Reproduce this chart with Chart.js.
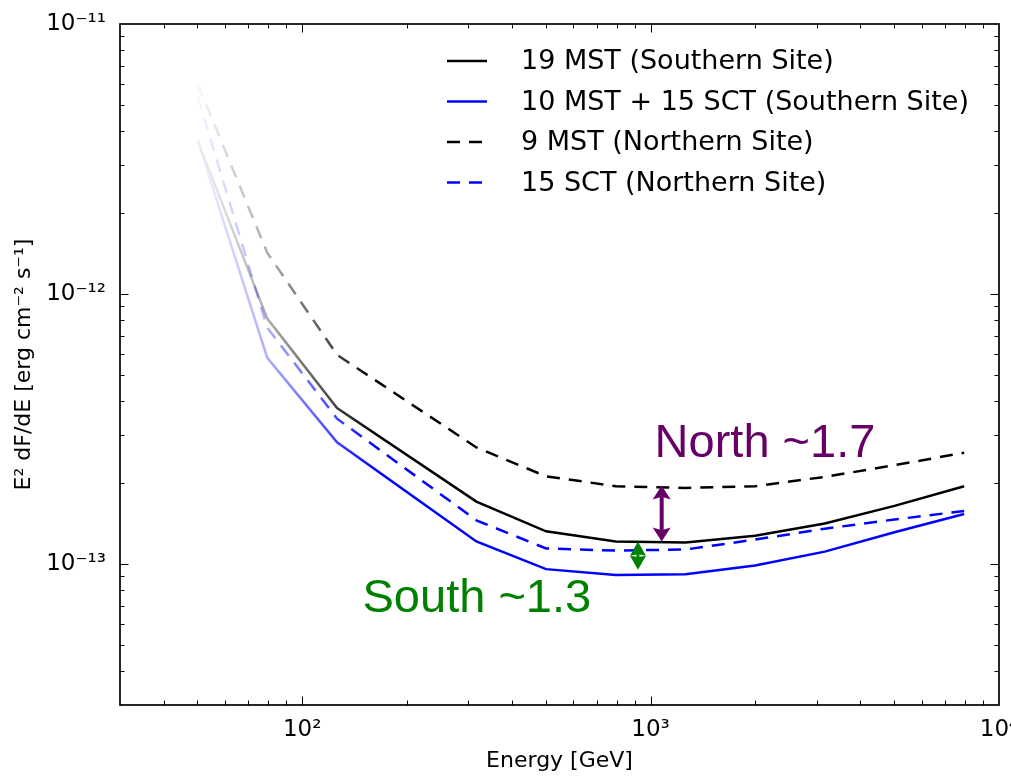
<!DOCTYPE html>
<html>
<head>
<meta charset="utf-8">
<script src="https://cdn.jsdelivr.net/npm/chart.js@4/dist/chart.umd.min.js"></script>
<style>
html, body { margin:0; padding:0; background:#fff; }
#wrap { width:1011px; height:777px; }
</style>
</head>
<body>
<div id="wrap"><canvas id="canvas" width="1011" height="777"></canvas></div>
<script>
// energy bins (GeV), log spaced
var energies = [50.1, 79.4, 125.9, 316.2, 501.2, 794.3, 1258.9, 1995.3, 3162.3, 5011.9, 7943.3];

// sensitivity curves, E^2 dF/dE in erg cm^-2 s^-1
var mstSouth = [3.7e-12, 8.1e-13, 3.78e-13, 1.70e-13, 1.32e-13, 1.21e-13, 1.20e-13, 1.27e-13, 1.41e-13, 1.64e-13, 1.94e-13];
var mixSouth = [3.7e-12, 5.8e-13, 2.82e-13, 1.21e-13, 9.56e-14, 9.1e-14, 9.16e-14, 9.87e-14, 1.11e-13, 1.31e-13, 1.53e-13];
var mstNorth = [6.0e-12, 1.42e-12, 5.95e-13, 2.70e-13, 2.11e-13, 1.94e-13, 1.91e-13, 1.94e-13, 2.10e-13, 2.32e-13, 2.58e-13];
var sctNorth = [5.4e-12, 7.5e-13, 3.45e-13, 1.45e-13, 1.14e-13, 1.12e-13, 1.13e-13, 1.23e-13, 1.35e-13, 1.46e-13, 1.57e-13];

var seriesNames = ['19 MST (Southern Site)', '10 MST + 15 SCT (Southern Site)', '9 MST (Northern Site)', '15 SCT (Northern Site)'];

var xRange = [30, 10000];
var yRange = [3e-14, 1e-11];
var xTicks = [100, 1000, 10000];
var xTickLabels = ['10\u00b2', '10\u00b3', '10\u2074'];
var yTicks = [1e-13, 1e-12, 1e-11];
var yTickLabels = ['10\u207b\u00b9\u00b3', '10\u207b\u00b9\u00b2', '10\u207b\u00b9\u00b9'];

// ratio markers: energy, upper curve, lower curve
var northRatio = [1076, 1.95e-13, 1.21e-13];
var southRatio = [920, 1.21e-13, 9.5e-14];
var northLabel = 'North ~1.7';
var southLabel = 'South ~1.3';
var northLabelAt = [1027, 2.49e-13];
var southLabelAt = [149, 6.64e-14];

// lines fade in over this energy range
var fadeFrom = 50, fadeTo = 165;

var lineColors = ['rgb(0,0,0)', 'rgb(0,0,255)', 'rgb(0,0,0)', 'rgb(0,0,255)'];
var lineDashes = [[], [], [13, 9], [13, 9]];
var FONT = 'DejaVu Sans';

function toPoints(vals){
	var pts = [];
	for(var i = 0; i < vals.length; i++){
		pts.push({x: energies[i], y: vals[i]});
	}
	return pts;
}

function fade(rgb){
	return function(ctx){
		var chart = ctx.chart;
		if(!chart.chartArea || !chart.scales.x){ return rgb; }
		var xs = chart.scales.x;
		var g = chart.ctx.createLinearGradient(xs.getPixelForValue(fadeFrom), 0, xs.getPixelForValue(fadeTo), 0);
		g.addColorStop(0, rgb.replace('rgb', 'rgba').replace(')', ',0.03)'));
		g.addColorStop(0.4, rgb.replace('rgb', 'rgba').replace(')', ',0.33)'));
		g.addColorStop(1, rgb);
		return g;
	};
}

function logSteps(min, max){
	var out = [];
	var e0 = Math.floor(Math.log10(min)), e1 = Math.ceil(Math.log10(max));
	for(var e = e0; e <= e1; e++){
		for(var k = 1; k < 10; k++){
			var v = k * Math.pow(10, e);
			if(v > min * 1.0001 && v < max * 0.9999){ out.push({v: v, major: k == 1}); }
		}
	}
	return out;
}

function seg(c, x1, y1, x2, y2){
	c.beginPath(); c.moveTo(x1, y1); c.lineTo(x2, y2); c.stroke();
}

// box round the plot with inward ticks on all four sides
var frameTicks = {
	id: 'frameTicks',
	afterDatasetsDraw: function(chart){
		var c = chart.ctx, a = chart.chartArea, xs = chart.scales.x, ys = chart.scales.y;
		c.save();
		c.strokeStyle = '#000';
		c.lineWidth = 1;
		logSteps(xs.min, xs.max).forEach(function(t){
			var px = Math.round(xs.getPixelForValue(t.v)) + 0.5;
			var len = t.major ? 8.5 : 4.5;
			seg(c, px, a.bottom, px, a.bottom - len);
			seg(c, px, a.top, px, a.top + len);
		});
		logSteps(ys.min, ys.max).forEach(function(t){
			var py = Math.round(ys.getPixelForValue(t.v)) + 0.5;
			var len = t.major ? 8.5 : 4.5;
			seg(c, a.left, py, a.left + len, py);
			seg(c, a.right, py, a.right - len, py);
		});
		c.lineWidth = 1.7;
		c.strokeRect(a.left, a.top, a.right - a.left, a.bottom - a.top);
		c.restore();
	}
};

function arrowHead(c, x, tipY, dir, len, w, notch){
	c.beginPath();
	c.moveTo(x, tipY);
	c.lineTo(x - w / 2, tipY + dir * len);
	c.lineTo(x, tipY + dir * len * notch);
	c.lineTo(x + w / 2, tipY + dir * len);
	c.closePath();
	c.fill();
}

function doubleArrow(c, x, y1, y2, color, len, w, shaft, notch){
	c.strokeStyle = color;
	c.fillStyle = color;
	c.lineWidth = shaft;
	seg(c, x, y1 + len * 0.5, x, y2 - len * 0.5);
	arrowHead(c, x, y1, 1, len, w, notch);
	arrowHead(c, x, y2, -1, len, w, notch);
}

var ratioMarks = {
	id: 'ratioMarks',
	afterDatasetsDraw: function(chart){
		var c = chart.ctx, xs = chart.scales.x, ys = chart.scales.y;
		c.save();
		doubleArrow(c, xs.getPixelForValue(northRatio[0]), ys.getPixelForValue(northRatio[1]),
			ys.getPixelForValue(northRatio[2]), '#660066', 14, 18, 4, 0.8);
		var gy1 = ys.getPixelForValue(southRatio[1]), gy2 = ys.getPixelForValue(southRatio[2]);
		doubleArrow(c, xs.getPixelForValue(southRatio[0]), gy1, gy2, '#008000', (gy2 - gy1) / 2, 16, 3, 0.9);

		c.font = '47px "Liberation Sans"';
		c.textAlign = 'left';
		c.textBaseline = 'alphabetic';
		c.fillStyle = '#660066';
		c.fillText(northLabel, xs.getPixelForValue(northLabelAt[0]), ys.getPixelForValue(northLabelAt[1]));
		c.fillStyle = '#008000';
		c.fillText(southLabel, xs.getPixelForValue(southLabelAt[0]), ys.getPixelForValue(southLabelAt[1]));
		c.restore();
	}
};

// frameless legend in the upper right of the plot
var cornerLegend = {
	id: 'cornerLegend',
	afterDraw: function(chart){
		var c = chart.ctx;
		var x0 = 447, x1 = 487, tx = 521, y0 = 61, step = 40.5;
		c.save();
		c.font = '27px "' + FONT + '"';
		c.textAlign = 'left';
		c.textBaseline = 'middle';
		chart.data.datasets.forEach(function(ds, i){
			var y = y0 + i * step;
			c.strokeStyle = lineColors[i];
			c.lineWidth = 2.5;
			c.setLineDash(lineDashes[i]);
			seg(c, x0, y, x1, y);
			c.setLineDash([]);
			c.fillStyle = '#000';
			c.fillText(ds.label, tx, y + 1);
		});
		c.restore();
	}
};

var curves = [mstSouth, mixSouth, mstNorth, sctNorth];
var datasets = [];
for(var i = 0; i < curves.length; i++){
	datasets.push({
		label: seriesNames[i],
		data: toPoints(curves[i]),
		borderColor: fade(lineColors[i]),
		borderWidth: 2.5,
		borderDash: lineDashes[i],
		pointRadius: 0,
		tension: 0,
		fill: false
	});
}

Chart.defaults.color = '#000';
Chart.defaults.font.family = FONT;

var chart = new Chart(document.getElementById('canvas').getContext('2d'), {
	type: 'line',
	data: {datasets: datasets},
	plugins: [frameTicks, ratioMarks, cornerLegend],
	options: {
		responsive: false,
		animation: false,
		devicePixelRatio: 1,
		layout: {padding: {top: 24, right: 12, left: 0, bottom: 0}},
		plugins: {legend: {display: false}, tooltip: {enabled: false}},
		scales: {
			x: {
				type: 'logarithmic',
				min: xRange[0],
				max: xRange[1],
				afterBuildTicks: function(s){ s.ticks = xTicks.map(function(v){ return {value: v}; }); },
				afterFit: function(s){ s.height = 72; s.paddingLeft = 0; s.paddingRight = 0; },
				ticks: {
					autoSkip: false,
					maxRotation: 0,
					padding: 11,
					font: {size: 23},
					callback: function(v){ return xTickLabels[xTicks.indexOf(v)]; }
				},
				grid: {display: false, drawTicks: false},
				border: {display: false},
				title: {display: true, text: 'Energy [GeV]', font: {size: 22}, padding: {top: 0, bottom: 3}}
			},
			y: {
				type: 'logarithmic',
				min: yRange[0],
				max: yRange[1],
				afterBuildTicks: function(s){ s.ticks = yTicks.map(function(v){ return {value: v}; }); },
				afterFit: function(s){ s.width = 120; s.paddingTop = 0; s.paddingBottom = 0; },
				ticks: {
					autoSkip: false,
					padding: 14,
					font: {size: 23},
					callback: function(v){ return yTickLabels[yTicks.indexOf(v)]; }
				},
				grid: {display: false, drawTicks: false},
				border: {display: false},
				title: {display: true, text: 'E\u00b2 dF/dE [erg cm\u207b\u00b2 s\u207b\u00b9]', font: {size: 22}, padding: {top: 11, bottom: 0}}
			}
		}
	}
});
</script>
</body>
</html>
